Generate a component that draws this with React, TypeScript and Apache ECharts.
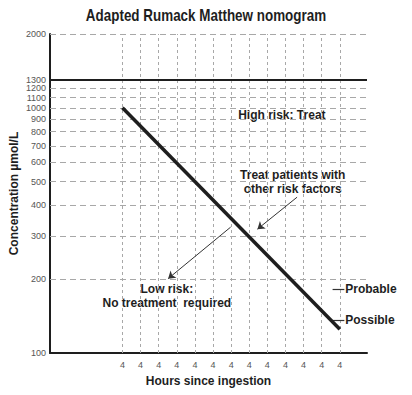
import React, { useEffect, useRef } from "react";
import * as echarts from "echarts";

// ---- data ----
const hours = [4, 5, 6, 7, 8, 9, 10, 11, 12, 13, 14, 15, 16];
const xTickLabels = ["4", "4", "4", "4", "4", "4", "4", "4", "4", "4", "4", "4", "4"];
const yTickLabels = [2000, 1300, 1200, 1100, 1000, 900, 800, 700, 600, 500, 400, 300, 200, 100];
const dashedLevels = [2000, 1200, 1100, 1000, 900, 800, 700, 600, 500, 400, 300, 200];
const actionLevel = 1300;
const treatmentLineHours = [4, 16];
const treatmentLineConc = [1000, 125];

const annotationTexts = [
  "High risk: Treat",
  "Treat patients with\nother risk factors",
  "Low risk:\nNo treatment  required",
];
const annotationHours = [12.8, 13.4, 6.45];
const annotationConc = [935, 498, 170];

const sideLabels = ["Probable", "Possible"];
const sideLabelHours = [16.3, 16.3];
const sideLabelConc = [182, 136];
const sideDashStart = [15.6, 15.6];
const sideDashEnd = [16.25, 16.25];

const arrowFrom: [number, number][] = [[13.64, 432], [9.97, 326]];
const arrowTo: [number, number][] = [[11.45, 320], [6.52, 201]];

const TITLE = "Adapted Rumack Matthew nomogram";
const INK = "#1e1e1e";
const GRID = "#a8a8a8";
const TICK = "#555";
const FONT = "'Liberation Sans', Arial, sans-serif";

export default function App() {
  const ref = useRef<HTMLDivElement>(null);
  useEffect(() => {
    if (!ref.current) return;
    const chart = echarts.init(ref.current, null, { renderer: "svg" });

    const yLines = yTickLabels.map((v) => {
      const isAction = v === actionLevel;
      const dashed = dashedLevels.includes(v);
      return {
        yAxis: v,
        lineStyle: isAction
          ? { type: "solid", color: INK, width: 2 }
          : dashed
          ? { type: [6, 4], color: GRID, width: 1 }
          : { type: "solid", color: "rgba(0,0,0,0)", width: 0 },
        label: {
          show: true,
          position: "start",
          distance: 4,
          formatter: String(v),
          color: TICK,
          fontSize: 9,
          fontFamily: FONT,
        },
      };
    });

    const xLines = hours.map((h) => ({ xAxis: h }));

    chart.setOption({
      animation: false,
      graphic: [
        {
          type: "text",
          x: 206,
          y: 16,
          scaleX: 0.84,
          silent: true,
          style: {
            text: TITLE,
            font: "bold 16px 'Liberation Sans', Arial, sans-serif",
            fill: INK,
            textAlign: "center",
            textVerticalAlign: "middle",
          },
        },
      ],
      grid: { left: 48, right: 45, top: 34, bottom: 42 },
      xAxis: {
        type: "value",
        min: 0,
        max: 17.5,
        interval: 1,
        name: "Hours since ingestion",
        nameLocation: "middle",
        nameGap: 22,
        nameTextStyle: { fontSize: 12, fontWeight: "bold", color: INK, fontFamily: FONT, verticalAlign: "top" },
        axisLine: { show: true, lineStyle: { color: INK, width: 2 } },
        axisTick: { show: false },
        splitLine: { show: false },
        axisLabel: {
          color: TICK,
          fontSize: 9,
          margin: 7,
          fontFamily: FONT,
          showMaxLabel: false,
          formatter: (v: number) => {
            const i = hours.indexOf(v);
            return i >= 0 ? xTickLabels[i] : "";
          },
        },
      },
      yAxis: {
        type: "log",
        logBase: 10,
        min: 100,
        max: 2000,
        name: "Concentration \u00b5mol/L",
        nameLocation: "middle",
        nameGap: 30,
        nameTextStyle: { fontSize: 12, fontWeight: "bold", color: INK, fontFamily: FONT },
        axisLine: { show: true, lineStyle: { color: INK, width: 2 } },
        axisTick: { show: false },
        axisLabel: { show: false },
        splitLine: { show: false },
      },
      series: [
        {
          type: "line",
          name: "grid",
          data: [],
          silent: true,
          markLine: {
            silent: true,
            symbol: ["none", "none"],
            label: { show: false },
            lineStyle: { type: [3, 3], color: GRID, width: 1 },
            data: [...xLines, ...yLines],
          },
        },
        {
          type: "line",
          name: "Treatment line",
          data: treatmentLineHours.map((h, i) => [h, treatmentLineConc[i]]),
          symbol: "none",
          lineStyle: { color: INK, width: 3.5 },
          z: 5,
        },
        {
          type: "line",
          name: "marks",
          data: [],
          silent: true,
          markLine: {
            silent: true,
            symbol: ["none", "none"],
            label: { show: false },
            lineStyle: { type: "solid", color: "#333", width: 1.2 },
            data: sideLabels.map((_, i) => [
              { coord: [sideDashStart[i], sideLabelConc[i]] },
              { coord: [sideDashEnd[i], sideLabelConc[i]] },
            ]),
          },
        },
        {
          type: "line",
          name: "arrows",
          data: [],
          silent: true,
          markLine: {
            silent: true,
            symbol: ["none", "arrow"],
            symbolSize: 7,
            label: { show: false },
            lineStyle: { type: "solid", color: "#333", width: 1 },
            data: arrowFrom.map((f, i) => [{ coord: f }, { coord: arrowTo[i] }]),
          },
        },
        {
          type: "scatter",
          name: "annotations",
          symbolSize: 0,
          silent: true,
          itemStyle: { opacity: 1 },
          data: annotationTexts.map((t, i) => ({ value: [annotationHours[i], annotationConc[i]], name: t })),
          label: {
            show: true,
            position: [0, 0],
            formatter: (p: any) => p.name,
            fontSize: 12,
            fontWeight: "bold",
            color: INK,
            lineHeight: 14,
            align: "center",
            verticalAlign: "middle",
            fontFamily: FONT,
          },
        },
        {
          type: "scatter",
          name: "side labels",
          symbolSize: 0,
          silent: true,
          itemStyle: { opacity: 1 },
          data: sideLabels.map((t, i) => ({ value: [sideLabelHours[i], sideLabelConc[i]], name: t })),
          label: {
            show: true,
            position: "right",
            distance: 0,
            formatter: (p: any) => p.name,
            fontSize: 12,
            fontWeight: "bold",
            color: INK,
            fontFamily: FONT,
          },
        },
      ],
    });
    return () => chart.dispose();
  }, []);
  return <div ref={ref} style={{ width: 412, height: 395, position: "absolute", left: 0, top: 0 }} />;
}
